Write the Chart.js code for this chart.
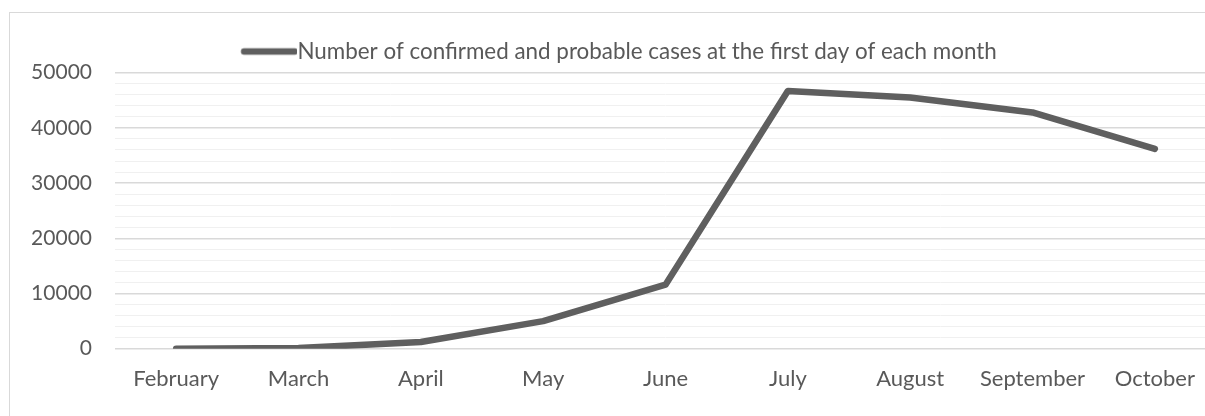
<!DOCTYPE html>
<html>
<head>
<meta charset="utf-8">
<script src="https://cdn.jsdelivr.net/npm/chart.js@4"></script>
<style>
  html, body { margin: 0; padding: 0; background: #fff; overflow: hidden; width: 1205px; height: 416px; }
  #frame { position: absolute; left: 9px; top: 12px; width: 1240px; height: 440px; border: 1px solid #d9d9d9; }
  #wrap { position: absolute; left: 0; top: 0; width: 1206px; height: 400px; }
</style>
</head>
<body>
<div id="frame"><div id="wrap"><canvas id="grafico"></canvas></div></div>
<script>
const months = ["February", "March", "April", "May", "June", "July", "August", "September", "October"];
const cases = [0, 120, 1200, 5000, 11600, 46700, 45500, 42800, 36200];
const seriesName = "Number of confirmed and probable cases at the first day of each month";
const yTicks = [0, 10000, 20000, 30000, 40000, 50000];

const textColor = "#595959";
const lineColor = "#5f5f5f";
const font = { family: "Lato", size: 22 };
const legendFont = { family: "Lato", size: 22.4 };
const yFont = { family: "Lato", size: 21 };

// legend swatch: thick rounded line, placed so the text follows it closely
const swatchW = 57, halfFont = legendFont.size / 2;
const swatch = document.createElement("canvas");
swatch.width = Math.round(swatchW + 2 * halfFont);
swatch.height = 10;
const sc = swatch.getContext("2d");
sc.strokeStyle = lineColor;
sc.lineWidth = 6.5;
sc.lineCap = "round";
sc.beginPath();
sc.moveTo(2 * halfFont + 3.5, 5);
sc.lineTo(swatch.width - 2.5, 5);
sc.stroke();

const ctx = document.getElementById("grafico").getContext("2d");
new Chart(ctx, {
  type: "line",
  data: {
    labels: months,
    datasets: [{
      label: seriesName,
      data: cases,
      borderColor: lineColor,
      backgroundColor: lineColor,
      borderWidth: 6.5,
      borderCapStyle: "round",
      borderJoinStyle: "round",
      pointRadius: 0,
      tension: 0
    }]
  },
  options: {
    responsive: true,
    maintainAspectRatio: false,
    animation: false,
    layout: { padding: { top: 15.3, bottom: 0, left: 0, right: 0 } },
    plugins: {
      legend: {
        position: "top",
        labels: {
          color: textColor,
          font: legendFont,
          usePointStyle: true,
          pointStyle: swatch,
          pointStyleWidth: swatchW,
          boxHeight: 6,
          padding: 12
        }
      },
      tooltip: { enabled: false }
    },
    scales: {
      x: {
        offset: true,
        afterFit: (scale) => { scale.height = 64.3; },
        grid: { display: false },
        border: { display: true, color: "#d9d9d9" },
        ticks: { color: textColor, font: font, padding: 9, maxRotation: 0 }
      },
      y: {
        min: 0,
        max: yTicks[yTicks.length - 1],
        afterFit: (scale) => { scale.width = 105; },
        border: { display: false },
        grid: {
          drawTicks: false,
          color: (c) => (c.tick && yTicks.includes(c.tick.value)) ? "#d9d9d9" : "#f0f0f0",
          lineWidth: (c) => (c.tick && yTicks.includes(c.tick.value)) ? 1.5 : 1
        },
        ticks: {
          stepSize: 2000,
          autoSkip: false,
          color: textColor,
          font: yFont,
          padding: 23,
          callback: (v) => yTicks.includes(v) ? String(v) : ""
        }
      }
    }
  }
});
</script>
</body>
</html>
